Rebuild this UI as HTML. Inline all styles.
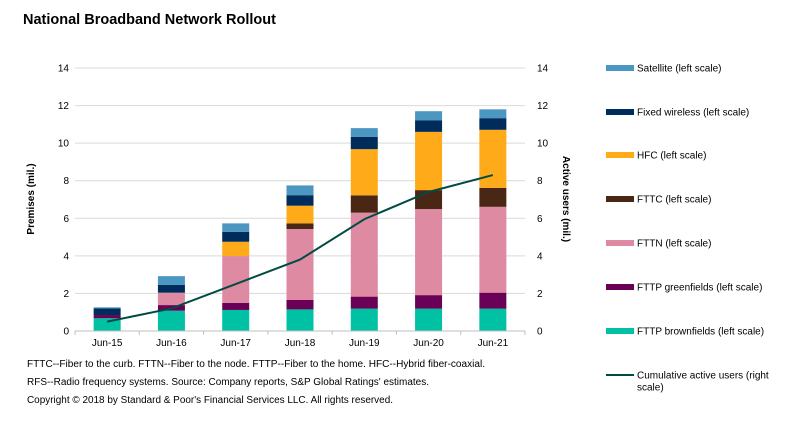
<!DOCTYPE html>
<html><head><meta charset="utf-8"><style>
body{margin:0;background:#fff;}
svg{display:block;font-family:"Liberation Sans",Arial,sans-serif;}
</style></head><body>
<svg id="chart" width="785" height="431" viewBox="0 0 785 431">
<text x="23" y="24" font-size="14.5" font-weight="bold" fill="#000">National Broadband Network Rollout</text>
<g id="grid"></g>
<g id="bars"></g>
<g id="line"></g>
<g id="axes"></g>
<text transform="translate(34,199) rotate(-90)" text-anchor="middle" font-size="10" font-weight="bold">Premises (mil.)</text>
<text transform="translate(563,199) rotate(90)" text-anchor="middle" font-size="10" font-weight="bold">Active users (mil.)</text>
<g id="legend"></g>
<g font-size="10" fill="#000">
<text x="27" y="367" textLength="458" lengthAdjust="spacingAndGlyphs">FTTC--Fiber to the curb. FTTN--Fiber to the node. FTTP--Fiber to the home.  HFC--Hybrid fiber-coaxial.</text>
<text x="27" y="385" textLength="402" lengthAdjust="spacingAndGlyphs">RFS--Radio frequency systems. Source: Company reports, S&amp;P Global Ratings' estimates.</text>
<text x="27" y="403" textLength="366" lengthAdjust="spacingAndGlyphs">Copyright © 2018 by Standard &amp; Poor's Financial Services LLC. All rights reserved.</text>
</g>
</svg>
<script>
const categories=["Jun-15","Jun-16","Jun-17","Jun-18","Jun-19","Jun-20","Jun-21"];
const fttpBrownfields=[0.68,1.08,1.12,1.15,1.19,1.19,1.19];
const fttpGreenfields=[0.17,0.30,0.38,0.50,0.64,0.72,0.85];
const fttn=[0,0.66,2.49,3.78,4.47,4.58,4.57];
const fttc=[0,0,0,0.30,0.92,1.01,1.01];
const hfc=[0,0,0.76,0.94,2.46,3.10,3.09];
const fixedWireless=[0.35,0.41,0.53,0.56,0.66,0.62,0.62];
const satellite=[0.06,0.47,0.45,0.52,0.46,0.48,0.47];
const activeUsers=[0.5,1.2,2.5,3.8,5.95,7.4,8.3];
const yTicks=[0,2,4,6,8,10,12,14];
const seriesNames=["Satellite  (left scale)","Fixed wireless (left scale)","HFC (left scale)","FTTC (left scale)","FTTN (left scale)","FTTP greenfields (left scale)","FTTP brownfields (left scale)"];
const NS="http://www.w3.org/2000/svg";
const x0=75,x1=525,yBase=331,yTop=68,yMax=14;
const step=(x1-x0)/categories.length;
const xc=i=>x0+step*(i+0.5);
const y=v=>yBase-(yBase-yTop)*v/yMax;
function mk(t,a,p){const e=document.createElementNS(NS,t);for(const k in a)e.setAttribute(k,a[k]);p.appendChild(e);return e;}
const grid=document.getElementById('grid'),axes=document.getElementById('axes');
yTicks.forEach(t=>{
 if(t>0){const l=mk('line',{x1:x0,x2:x1,y1:y(t),y2:y(t),stroke:'#d9d9d9','stroke-width':1},grid);
 
 }
 const a=mk('text',{x:69,y:y(t)+3.5,'text-anchor':'end','font-size':10},axes);a.textContent=t;
 
 
 const b=mk('text',{x:537,y:y(t)+3.5,'font-size':10},axes);b.textContent=t;
 
 
});
mk('line',{x1:x0,x2:x1,y1:yBase,y2:yBase,stroke:'#bfbfbf'},axes);
categories.forEach((c,i)=>{
 mk('line',{x1:x0+step*i,x2:x0+step*i,y1:yBase,y2:yBase+4,stroke:'#bfbfbf'},axes);
 const t=mk('text',{x:xc(i),y:346,'text-anchor':'middle','font-size':10},axes);t.textContent=c;
 
 
});
mk('line',{x1:x1,x2:x1,y1:yBase,y2:yBase+4,stroke:'#bfbfbf'},axes);
const stack=[[fttpBrownfields,'#00c1a3','fttp-brownfields'],[fttpGreenfields,'#6b0057','fttp-greenfields'],[fttn,'#de8aa3','fttn'],[fttc,'#4a2615','fttc'],[hfc,'#ffab19','hfc'],[fixedWireless,'#002c5c','fixed-wireless'],[satellite,'#4c97c1','satellite']];
const bars=document.getElementById('bars');const bw=27;
categories.forEach((c,i)=>{let acc=0;stack.forEach(([arr,col,nm])=>{const v=arr[i];if(v<=0)return;
 const r=mk('rect',{x:xc(i)-bw/2,y:y(acc+v),width:bw,height:y(acc)-y(acc+v),fill:col},bars);
 
 
 acc+=v;});});
const lg=document.getElementById('line');
const pl=mk('polyline',{points:activeUsers.map((v,i)=>xc(i)+','+y(v)).join(' '),fill:'none',stroke:'#004c45','stroke-width':2},lg);


const leg=document.getElementById('legend');
const legCols=['#4c97c1','#002c5c','#ffab19','#4a2615','#de8aa3','#6b0057','#00c1a3'];
const rowsY=[68,112,155,199,243,287,331];
seriesNames.forEach((n,i)=>{
 const r=mk('rect',{x:606,y:rowsY[i]-3,width:28,height:6,fill:legCols[i]},leg);
 
 
 const t=mk('text',{x:637,y:rowsY[i]+3.5,'font-size':10},leg);t.textContent=n;
 
 
});
const ll=mk('line',{x1:606,x2:634,y1:375,y2:375,stroke:'#004c45','stroke-width':2},leg);


const t1=mk('text',{x:637,y:378.5,'font-size':10},leg);t1.textContent='Cumulative active users (right';


const t2=mk('text',{x:637,y:390.5,'font-size':10},leg);t2.textContent='scale)';


</script>
</body></html>
